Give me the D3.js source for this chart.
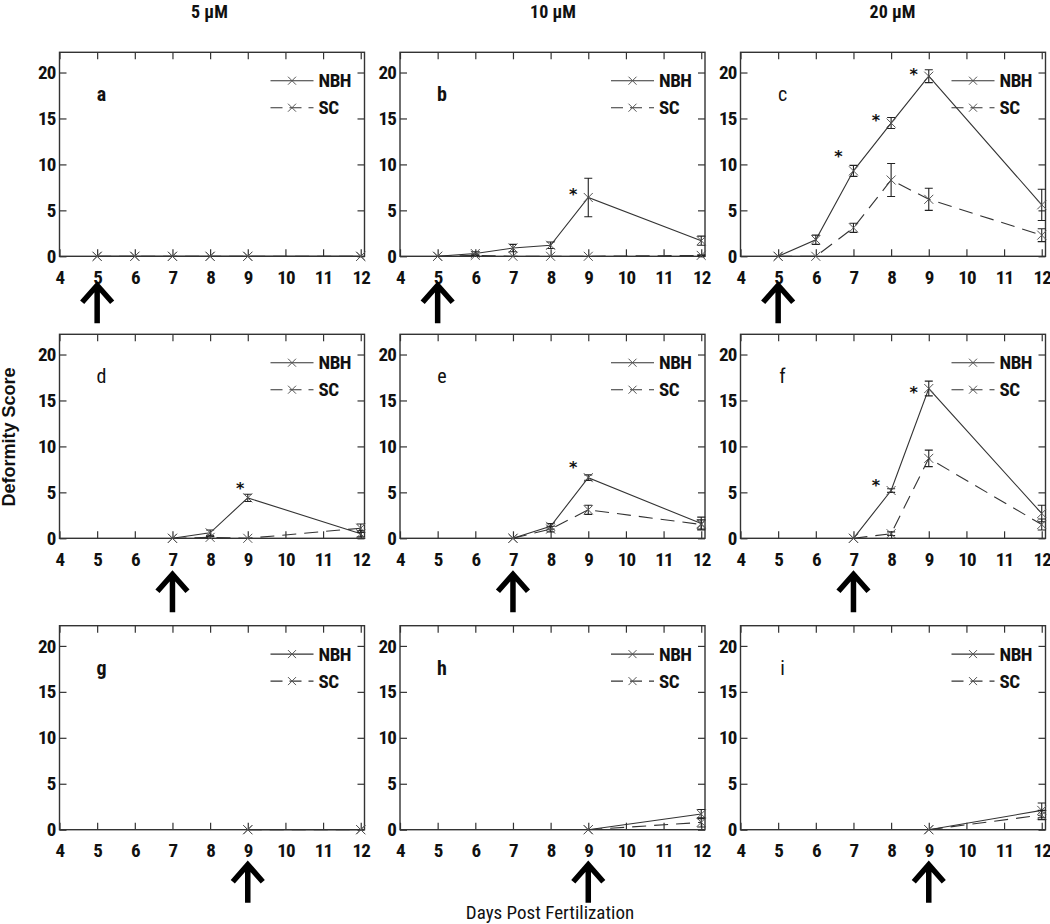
<!DOCTYPE html>
<html>
<head>
<meta charset="utf-8">
<script src="https://cdn.jsdelivr.net/npm/d3@7"></script>
<style>
  html, body { margin: 0; padding: 0; background: #fff; }
  svg { display: block; }
  .cond { font-family: 'Liberation Sans Narrow', 'Arial Narrow', 'Roboto Condensed', sans-serif; }
</style>
</head>
<body>
<svg id="chart" width="1050" height="924"></svg>
<script>
// ---------- DATA ----------
const colTitles = ["5 µM", "10 µM", "20 µM"];
const panelIds = ["a", "b", "c", "d", "e", "f", "g", "h", "i"];
const panelBold = [true, true, false, false, false, false, true, true, false];
const startDays = [5, 5, 5, 7, 7, 7, 9, 9, 9];
const xTicks = [4, 5, 6, 7, 8, 9, 10, 11, 12];
const yTicks = [0, 5, 10, 15, 20];
const seriesNames = ["NBH", "SC"];

const daysRow1 = [5, 6, 7, 8, 9, 12];
const daysRow2 = [7, 8, 9, 12];
const daysRow3 = [9, 12];

// panel a (5 µM, from day 5)
const nbhA = [0, 0, 0, 0, 0, 0];
const nbhAErr = [0, 0, 0, 0, 0, 0];
const scA = [0, 0, 0, 0, 0, 0];
const scAErr = [0, 0, 0, 0, 0, 0];
// panel b (10 µM, from day 5)
const nbhB = [0, 0.3, 0.9, 1.2, 6.4, 1.7];
const nbhBErr = [0, 0.2, 0.4, 0.35, 2.1, 0.5];
const scB = [0, 0.1, 0, 0, 0, 0.1];
const scBErr = [0, 0.05, 0, 0, 0, 0.05];
// panel c (20 µM, from day 5)
const nbhC = [0, 1.8, 9.3, 14.5, 19.6, 5.6];
const nbhCErr = [0, 0.5, 0.6, 0.6, 0.7, 1.7];
const scC = [0, 0, 3.1, 8.3, 6.2, 2.3];
const scCErr = [0, 0, 0.5, 1.8, 1.2, 0.7];
// panel d (5 µM, from day 7)
const nbhD = [0, 0.6, 4.4, 0.5];
const nbhDErr = [0, 0.3, 0.4, 0.35];
const scD = [0, 0.1, 0, 1.1];
const scDErr = [0, 0.1, 0, 0.45];
// panel e (10 µM, from day 7)
const nbhE = [0, 1.3, 6.6, 1.6];
const nbhEErr = [0, 0.3, 0.3, 0.7];
const scE = [0, 1.0, 3.1, 1.5];
const scEErr = [0, 0.3, 0.5, 0.5];
// panel f (20 µM, from day 7)
const nbhF = [0, 5.2, 16.3, 2.7];
const nbhFErr = [0, 0.2, 0.8, 0.9];
const scF = [0, 0.5, 8.7, 1.5];
const scFErr = [0, 0.2, 0.9, 0.6];
// panel g (5 µM, from day 9)
const nbhG = [0, 0];
const nbhGErr = [0, 0];
const scG = [0, 0];
const scGErr = [0, 0];
// panel h (10 µM, from day 9)
const nbhH = [0, 1.7];
const nbhHErr = [0, 0.5];
const scH = [0, 0.8];
const scHErr = [0, 0.5];
// panel i (20 µM, from day 9)
const nbhI = [0, 2.1];
const nbhIErr = [0, 0.8];
const scI = [0, 1.6];
const scIErr = [0, 0.5];

// significance stars [day, score]
const starsA = [];
const starsB = [[8.6, 7.2]];
const starsC = [[6.6, 11.3], [7.6, 15.3], [8.6, 20.3]];
const starsD = [[8.8, 5.9]];
const starsE = [[8.6, 8.2]];
const starsF = [[7.6, 6.2], [8.6, 16.3]];
const starsG = [];
const starsH = [];
const starsI = [];

const panels = [
  { days: daysRow1, nbh: nbhA, nbhErr: nbhAErr, sc: scA, scErr: scAErr, stars: starsA },
  { days: daysRow1, nbh: nbhB, nbhErr: nbhBErr, sc: scB, scErr: scBErr, stars: starsB },
  { days: daysRow1, nbh: nbhC, nbhErr: nbhCErr, sc: scC, scErr: scCErr, stars: starsC },
  { days: daysRow2, nbh: nbhD, nbhErr: nbhDErr, sc: scD, scErr: scDErr, stars: starsD },
  { days: daysRow2, nbh: nbhE, nbhErr: nbhEErr, sc: scE, scErr: scEErr, stars: starsE },
  { days: daysRow2, nbh: nbhF, nbhErr: nbhFErr, sc: scF, scErr: scFErr, stars: starsF },
  { days: daysRow3, nbh: nbhG, nbhErr: nbhGErr, sc: scG, scErr: scGErr, stars: starsG },
  { days: daysRow3, nbh: nbhH, nbhErr: nbhHErr, sc: scH, scErr: scHErr, stars: starsH },
  { days: daysRow3, nbh: nbhI, nbhErr: nbhIErr, sc: scI, scErr: scIErr, stars: starsI }
];

// ---------- LAYOUT ----------
const colLeft = [59.5, 400, 740.5];
const rowTop = [52.3, 334.3, 625.7];
const arrowGap = [27, 34, 33];
const pw = 305, ph = 204;
const lineColor = "#333";
const markColor = "#555";
const dashPattern = "14,8";

const svg = d3.select("#chart");
const x = d3.scaleLinear().domain([4, 12.1]).range([0, pw]);
const y = d3.scaleLinear().domain([0, 22.2]).range([ph, 0]);

function cross(g, cx, cy, s, color) {
  g.append("path")
    .attr("d", `M${cx - s},${cy - s}L${cx + s},${cy + s}M${cx - s},${cy + s}L${cx + s},${cy - s}`)
    .attr("stroke", color).attr("stroke-width", 1).attr("fill", "none");
}

panels.forEach((p, i) => {
  const col = i % 3, row = Math.floor(i / 3);
  const g = svg.append("g").attr("transform", `translate(${colLeft[col]},${rowTop[row]})`);

  // axes (inward ticks)
  const ax = g.append("g");
  ax.append("g").attr("transform", `translate(0,${ph})`)
    .call(d3.axisBottom(x).tickValues(xTicks).tickSizeInner(-7).tickSizeOuter(0).tickPadding(14).tickFormat(d3.format("d")));
  ax.append("g")
    .call(d3.axisTop(x).tickValues(xTicks).tickSizeInner(-7).tickSizeOuter(0).tickFormat(""));
  ax.append("g")
    .call(d3.axisLeft(y).tickValues(yTicks).tickSizeInner(-7).tickSizeOuter(0).tickPadding(4).tickFormat(d3.format("d")));
  ax.append("g").attr("transform", `translate(${pw},0)`)
    .call(d3.axisRight(y).tickValues(yTicks).tickSizeInner(-7).tickSizeOuter(0).tickFormat(""));
  ax.selectAll(".domain").remove();
  ax.selectAll(".tick line").attr("stroke", lineColor).attr("stroke-width", 1.2);
  ax.selectAll(".tick text").attr("class", "cond").attr("font-size", 19)
    .attr("letter-spacing", "-0.8px").attr("font-weight", "bold").attr("fill", "#111");

  g.append("rect").attr("x", 0).attr("y", 0).attr("width", pw).attr("height", ph)
    .attr("fill", "none").attr("stroke", lineColor).attr("stroke-width", 1.4);

  // series
  const series = [
    { vals: p.nbh, err: p.nbhErr, dash: null },
    { vals: p.sc, err: p.scErr, dash: dashPattern }
  ];
  const lineGen = d3.line().x(d => x(d[0])).y(d => y(d[1]));
  series.forEach(s => {
    const pts = p.days.map((d, k) => [d, s.vals[k], s.err[k]]);
    g.append("path").datum(pts).attr("d", lineGen)
      .attr("fill", "none").attr("stroke", lineColor).attr("stroke-width", 1.1)
      .attr("stroke-dasharray", s.dash);
    pts.forEach(pt => {
      if (pt[2] > 0) {
        const cx = x(pt[0]), y1 = y(pt[1] - pt[2]), y2 = y(pt[1] + pt[2]);
        g.append("path")
          .attr("d", `M${cx},${y1}V${y2}M${cx - 4},${y1}H${cx + 4}M${cx - 4},${y2}H${cx + 4}`)
          .attr("stroke", "#222").attr("stroke-width", 1.1).attr("fill", "none");
      }
      cross(g, x(pt[0]), y(pt[1]), 4.5, markColor);
    });
  });

  // stars
  p.stars.forEach(st => {
    g.append("text").attr("x", x(st[0])).attr("y", y(st[1]))
      .attr("text-anchor", "middle").attr("dy", "0.62em")
      .attr("font-family", "DejaVu Sans, sans-serif").attr("font-weight", "bold")
      .attr("font-size", 16).attr("fill", "#111").text("*");
  });

  // panel label
  g.append("text").attr("class", "cond").attr("x", 42).attr("y", 42)
    .attr("text-anchor", "middle").attr("dominant-baseline", "central")
    .attr("font-size", 20).attr("font-weight", panelBold[i] ? "bold" : "normal")
    .attr("fill", "#111").text(panelIds[i]);

  // legend
  seriesNames.forEach((name, k) => {
    const ly = 28.4 + k * 27;
    g.append("line").attr("x1", 211).attr("x2", 254).attr("y1", ly).attr("y2", ly)
      .attr("stroke", lineColor).attr("stroke-width", 1.1)
      .attr("stroke-dasharray", k === 1 ? "12,7" : null);
    cross(g, 232.5, ly, 4, markColor);
    g.append("text").attr("class", "cond").attr("x", 259).attr("y", ly)
      .attr("dominant-baseline", "central").attr("font-size", 19).attr("font-weight", "bold")
      .attr("letter-spacing", "-0.5px").attr("fill", "#111").text(name);
  });

  // exposure arrow
  const axp = x(startDays[i]);
  const tip = ph + arrowGap[row];
  g.append("path")
    .attr("d", `M${axp},${tip + 2}V${tip + 40}M${axp - 15},${tip + 19}L${axp},${tip + 2}L${axp + 15},${tip + 19}`)
    .attr("stroke", "#000").attr("stroke-width", 5.5).attr("fill", "none")
    .attr("stroke-linejoin", "miter").attr("stroke-linecap", "butt");
});

// column titles
colTitles.forEach((t, c) => {
  svg.append("text").attr("class", "cond")
    .attr("x", colLeft[c] + [150, 153, 152][c]).attr("y", 11)
    .attr("text-anchor", "middle").attr("dominant-baseline", "central")
    .attr("font-size", 18).attr("font-weight", "bold").attr("fill", "#111").text(t);
});

// axis titles
svg.append("text")
  .attr("transform", "translate(9,437) rotate(-90)")
  .attr("text-anchor", "middle").attr("dominant-baseline", "central")
  .attr("font-family", "Liberation Sans, Arial, sans-serif").attr("font-weight", "bold")
  .attr("font-size", 18).attr("fill", "#111").text("Deformity Score");

svg.append("text").attr("class", "cond")
  .attr("x", 550).attr("y", 912)
  .attr("text-anchor", "middle").attr("dominant-baseline", "central")
  .attr("font-size", 19).attr("fill", "#111").text("Days Post Fertilization");
</script>
</body>
</html>
